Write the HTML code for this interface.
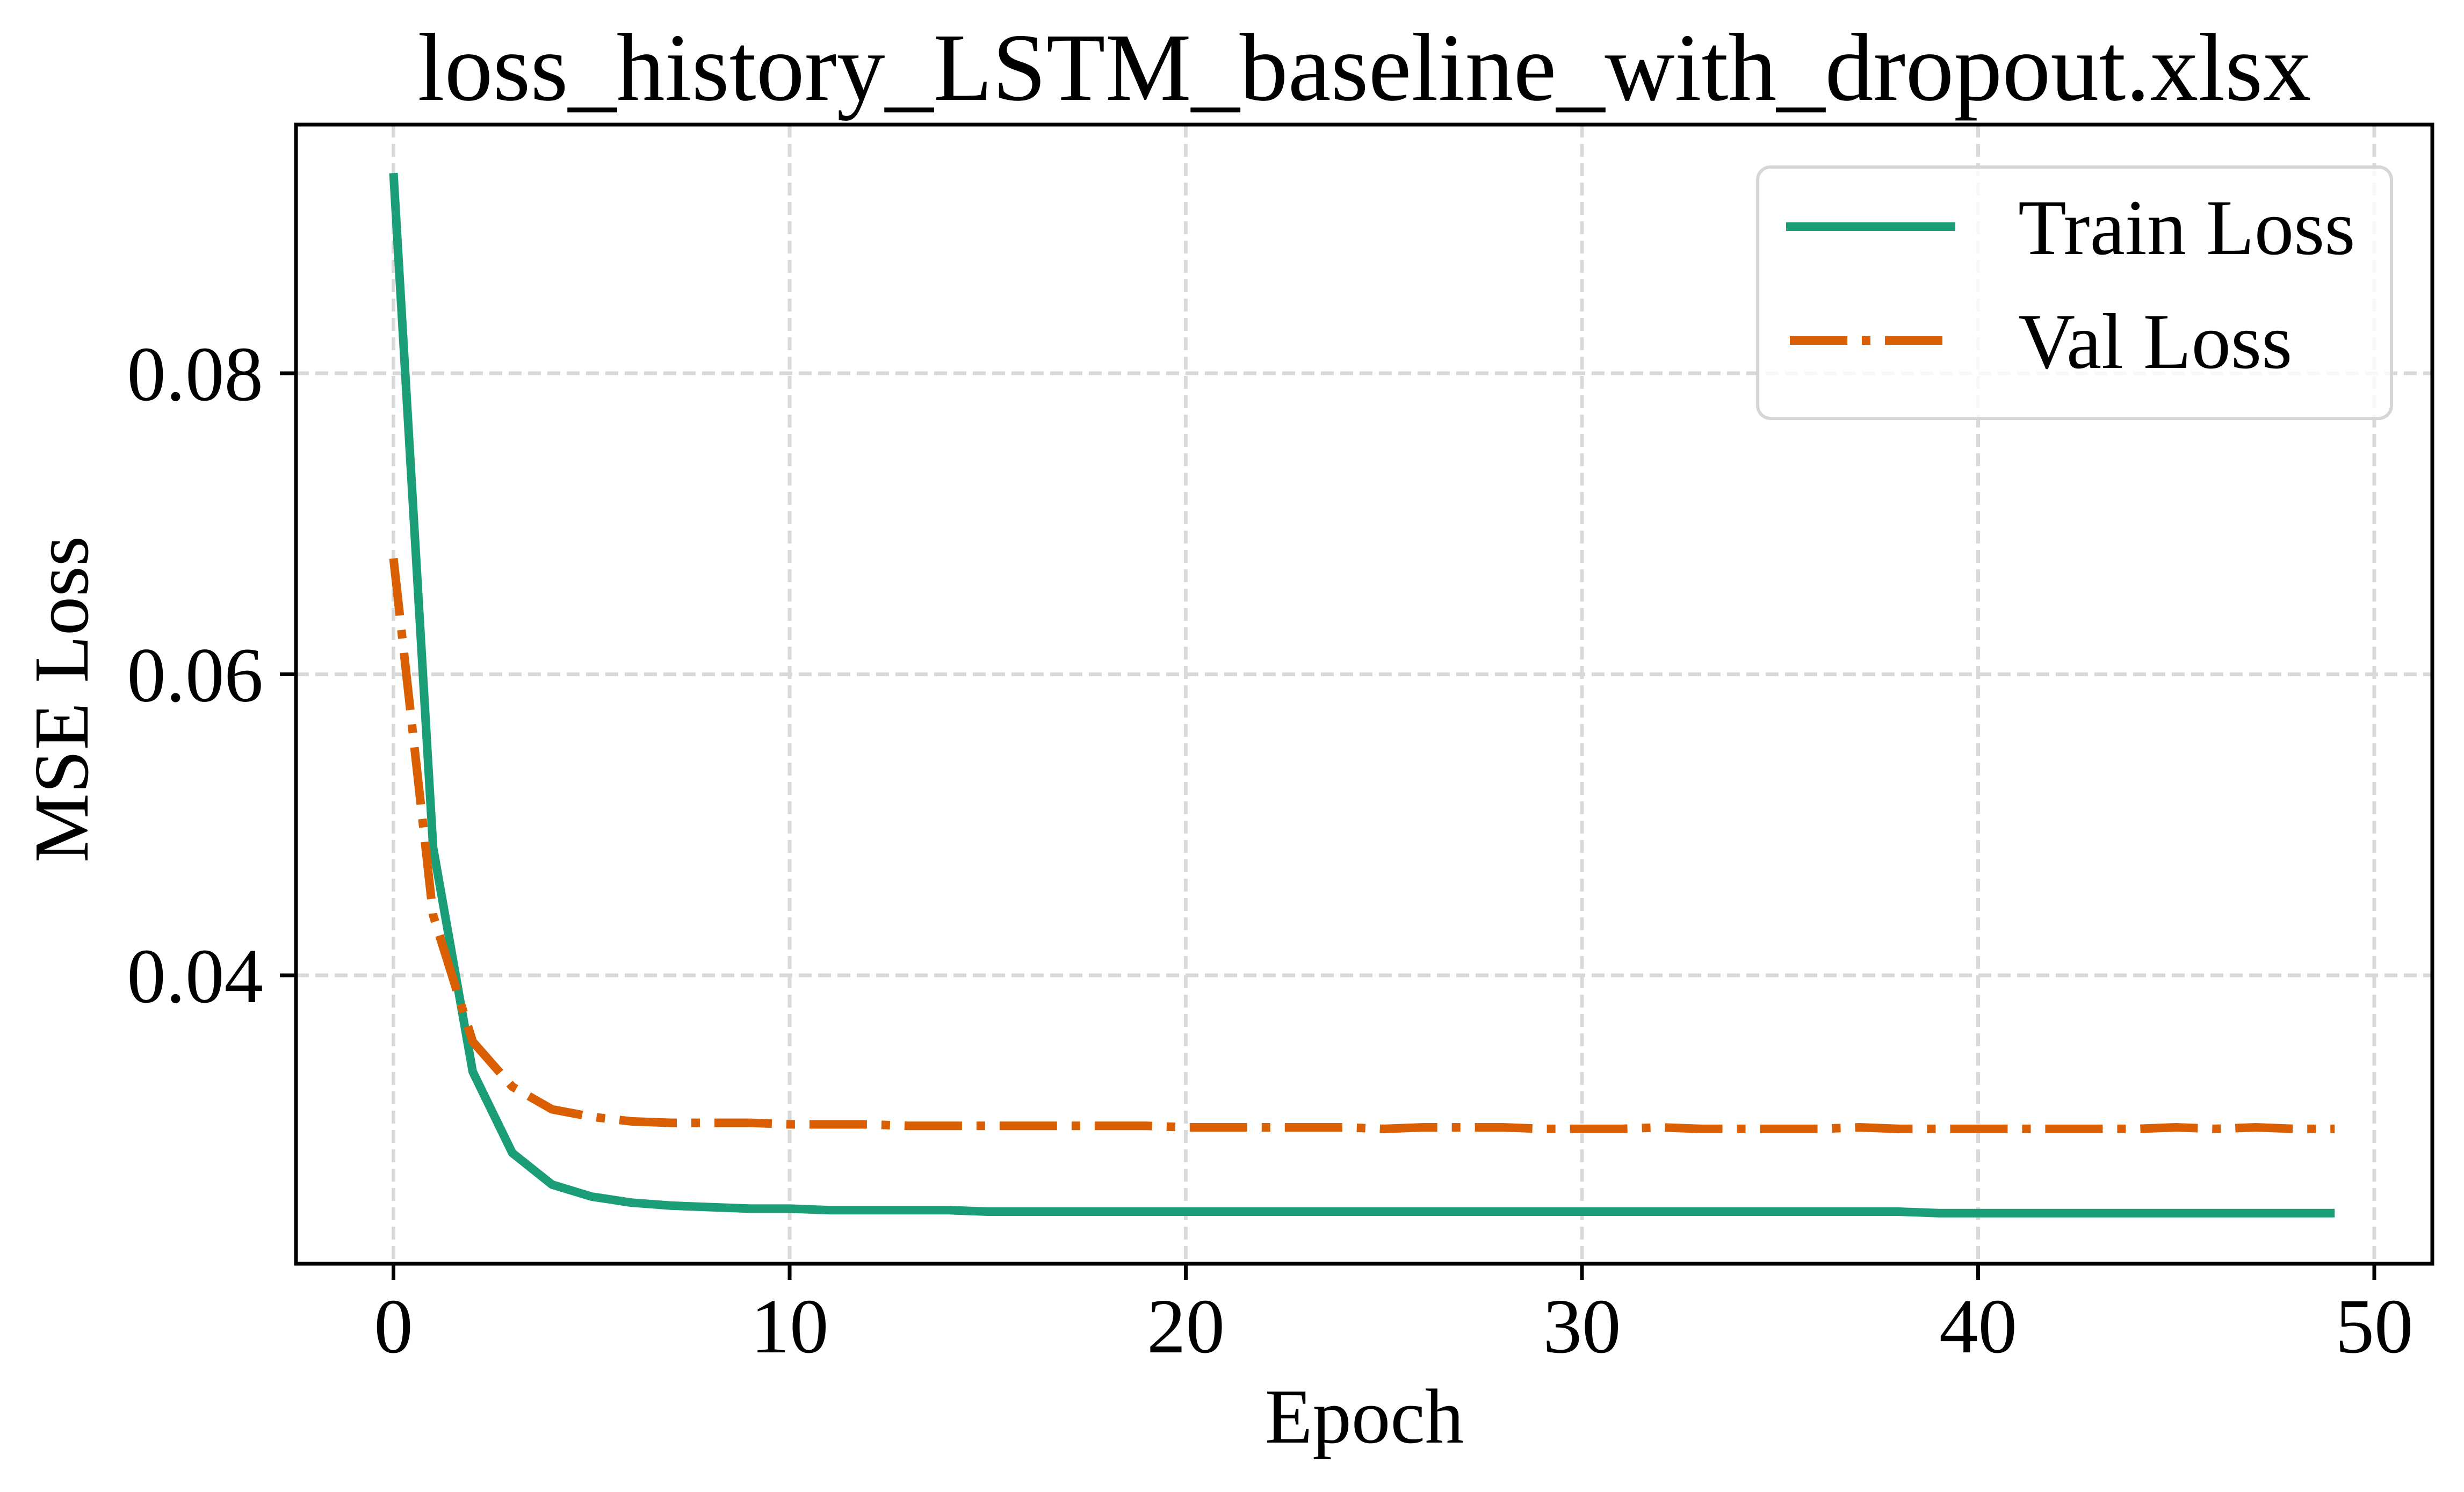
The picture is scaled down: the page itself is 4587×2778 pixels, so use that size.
<!DOCTYPE html>
<html><head><meta charset="utf-8"><style>
html,body{margin:0;padding:0;background:#fff}
svg{display:block;font-family:"Liberation Serif","DejaVu Serif",serif}
</style></head><body>
<svg id="chart" width="4587" height="2778" viewBox="0 0 4587 2778" xmlns="http://www.w3.org/2000/svg">
<rect x="0" y="0" width="4587" height="2778" fill="#fff"/>
<g id="grid"></g>
<g id="series"></g>
<g id="axes"></g>
<text x="2540" y="186" font-size="180" text-anchor="middle">loss_history_LSTM_baseline_with_dropout.xlsx</text>
<text x="2540" y="2686" font-size="145" text-anchor="middle">Epoch</text>
<text x="0" y="0" font-size="145" text-anchor="middle" transform="translate(163,1302) rotate(-90)">MSE Loss</text>
<g>
<rect x="3272" y="311" width="1180" height="468" rx="24" fill="#fff" fill-opacity="0.8" stroke="#d6d6d6" stroke-width="6"/>
<line x1="3325" y1="422" x2="3640" y2="422" stroke="#1b9e77" stroke-width="16"/>
<text x="3757" y="473" font-size="147">Train Loss</text>
<line x1="3332" y1="634" x2="3616" y2="634" stroke="#d95f02" stroke-width="16" stroke-dasharray="107,27,16,27"/>
<text x="3757" y="685" font-size="147">Val Loss</text>
</g>
</svg>
<script>
const epochs = Array.from({length:50},(_,i)=>i);
const trainLoss = [0.0933,0.0485,0.0336,0.0282,0.0261,0.0253,0.0249,0.0247,0.0246,0.0245,0.0245,0.0244,0.0244,0.0244,0.0244,0.0243,0.0243,0.0243,0.0243,0.0243,0.0243,0.0243,0.0243,0.0243,0.0243,0.0243,0.0243,0.0243,0.0243,0.0243,0.0243,0.0243,0.0243,0.0243,0.0243,0.0243,0.0243,0.0243,0.0243,0.0242,0.0242,0.0242,0.0242,0.0242,0.0242,0.0242,0.0242,0.0242,0.0242,0.0242];
const valLoss = [0.0677,0.0440,0.0356,0.0326,0.0311,0.0306,0.0303,0.0302,0.0302,0.0302,0.0301,0.0301,0.0301,0.0300,0.0300,0.0300,0.0300,0.0300,0.0300,0.0300,0.0299,0.0299,0.0299,0.0299,0.0299,0.0298,0.0299,0.0299,0.0299,0.0298,0.0298,0.0298,0.0299,0.0298,0.0298,0.0298,0.0298,0.0299,0.0298,0.0298,0.0298,0.0298,0.0298,0.0298,0.0298,0.0299,0.0298,0.0299,0.0298,0.0298];
const xTicks = [0,10,20,30,40,50];
const yTicks = [0.04,0.06,0.08];
const yTickLabels = ["0.04","0.06","0.08"];

const NS="http://www.w3.org/2000/svg";
const L=551,R=4528,T=232,B=2353;
const X0=732.5, XS=73.75;
const sx = v => X0 + v*XS;
const sy = v => 695 + (0.08 - v)*28025;
function mk(tag, attrs, parent){const e=document.createElementNS(NS,tag);for(const k in attrs)e.setAttribute(k,attrs[k]);parent.appendChild(e);return e;}
const grid=document.getElementById('grid'), series=document.getElementById('series'), axes=document.getElementById('axes');

xTicks.forEach(t=>{
  const g=mk('line',{x1:sx(t),x2:sx(t),y1:T,y2:B,stroke:'#d9d9d9','stroke-width':7,'stroke-dasharray':'24,12'},grid);
  
  
  const tk=mk('line',{x1:sx(t),x2:sx(t),y1:B,y2:B+30,stroke:'#000','stroke-width':7},axes);
  
  
  const lb=mk('text',{x:sx(t),y:2518,'font-size':145,'text-anchor':'middle'},axes);
  lb.textContent=String(t);
  
  
});
yTicks.forEach((t,i)=>{
  const g=mk('line',{x1:L,x2:R,y1:sy(t),y2:sy(t),stroke:'#d9d9d9','stroke-width':7,'stroke-dasharray':'24,12'},grid);
  
  
  const tk=mk('line',{x1:L-30,x2:L,y1:sy(t),y2:sy(t),stroke:'#000','stroke-width':7},axes);
  
  
  const lb=mk('text',{x:490,y:sy(t)+50,'font-size':145,'text-anchor':'end'},axes);
  lb.textContent=yTickLabels[i];
  
  
});
const frame=mk('rect',{x:L,y:T,width:R-L,height:B-T,fill:'none',stroke:'#000','stroke-width':7},axes);



const tp=mk('polyline',{points:epochs.map((e,i)=>sx(e)+','+sy(trainLoss[i])).join(' '),fill:'none',stroke:'#1b9e77','stroke-width':16,'stroke-linejoin':'round'},series);


const vp=mk('polyline',{points:epochs.map((e,i)=>sx(e)+','+sy(valLoss[i])).join(' '),fill:'none',stroke:'#d95f02','stroke-width':16,'stroke-dasharray':'107,27,16,27','stroke-linejoin':'round'},series);


</script>
</body></html>
